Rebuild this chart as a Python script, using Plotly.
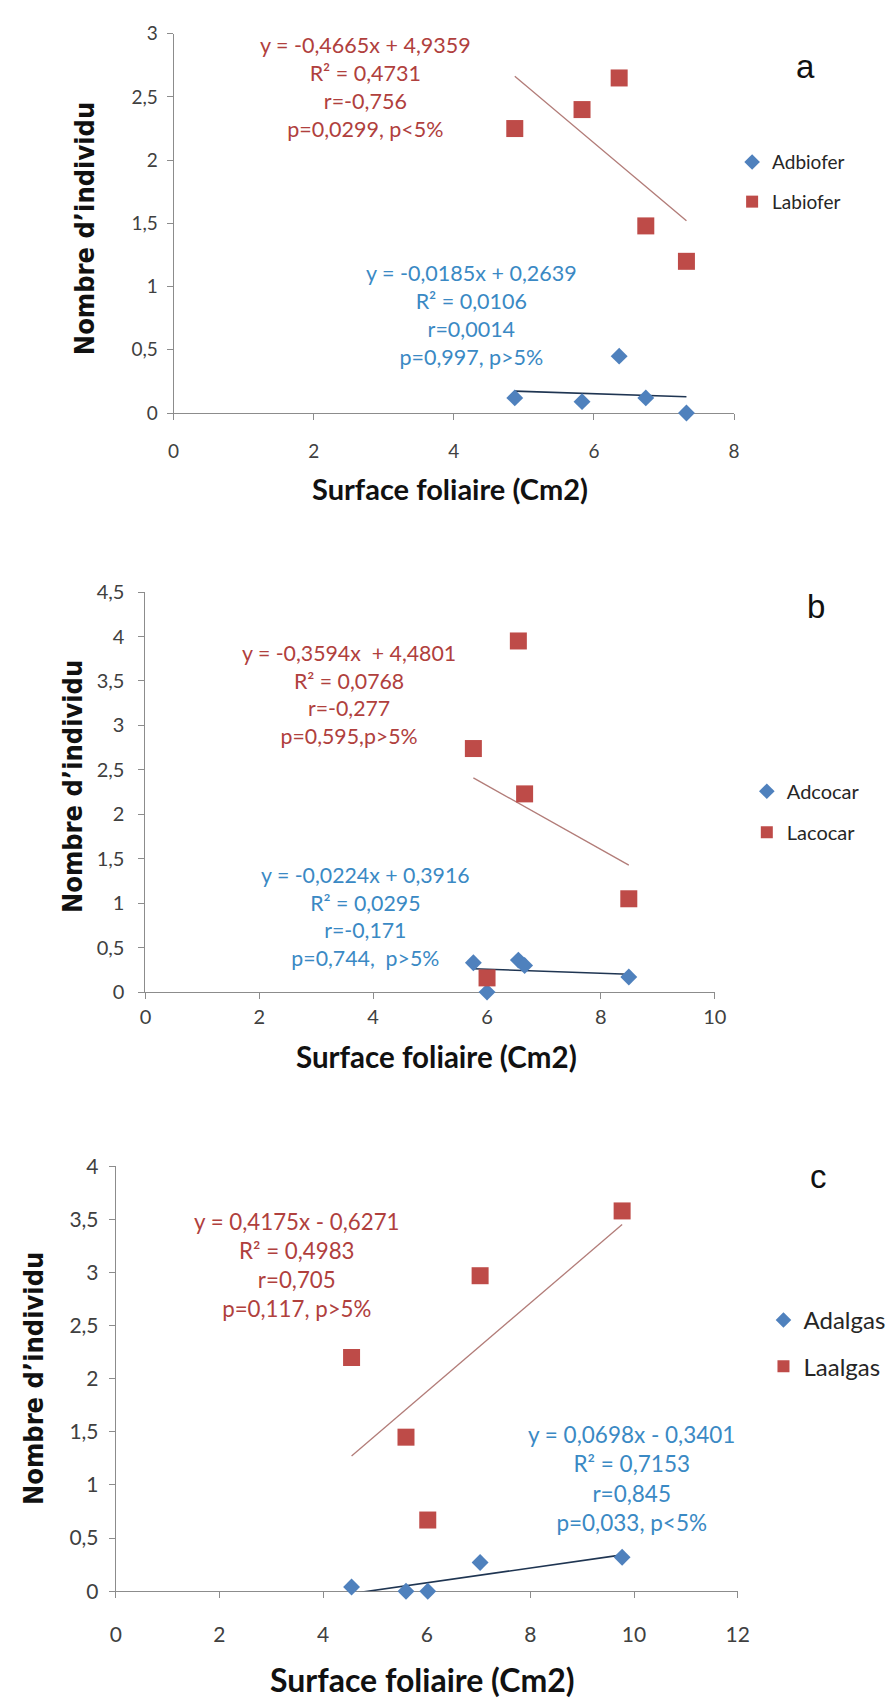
import plotly.graph_objects as go

W, H = 896, 1702

# ---- data -------------------------------------------------------------
# panel a : biofer
a_x = [4.87, 5.83, 6.36, 6.74, 7.32]
a_ad = [0.12, 0.09, 0.45, 0.12, 0.0]
a_la = [2.25, 2.40, 2.65, 1.48, 1.20]
a_fit_ad = [-0.0185, 0.2639]
a_fit_la = [-0.4665, 4.9359]
a_names = ["Adbiofer", "Labiofer"]
a_txt_la = ["y = -0,4665x + 4,9359", "R² = 0,4731", "r=-0,756", "p=0,0299, p&lt;5%"]
a_txt_ad = ["y = -0,0185x + 0,2639", "R² = 0,0106", "r=0,0014", "p=0,997, p&gt;5%"]

# panel b : cocar
b_x_ad = [5.76, 6.55, 6.66, 8.49, 6.00]
b_x_la = [5.76, 6.55, 6.66, 8.49, 6.00]
b_ad = [0.33, 0.36, 0.30, 0.17, 0.0]
b_la = [2.74, 3.95, 2.23, 1.05, 0.16]
b_fit_ad = [-0.0224, 0.3916]
b_fit_la = [-0.3594, 4.4801]
b_names = ["Adcocar", "Lacocar"]
b_txt_la = ["y = -0,3594x \u00a0+ 4,4801", "R² = 0,0768", "r=-0,277", "p=0,595,p&gt;5%"]
b_txt_ad = ["y = -0,0224x + 0,3916", "R² = 0,0295", "r=-0,171", "p=0,744, \u00a0p&gt;5%"]

# panel c : algas
c_x = [4.55, 5.60, 6.02, 7.03, 9.77]
c_ad = [0.04, 0.0, 0.0, 0.27, 0.32]
c_la = [2.20, 1.45, 0.67, 2.97, 3.58]
c_fit_ad = [0.0698, -0.3401]
c_fit_la = [0.4175, -0.6271]
c_names = ["Adalgas", "Laalgas"]
c_txt_la = ["y = 0,4175x - 0,6271", "R² = 0,4983", "r=0,705", "p=0,117, p&gt;5%"]
c_txt_ad = ["y = 0,0698x - 0,3401", "R² = 0,7153", "r=0,845", "p=0,033, p&lt;5%"]

x_title = "Surface foliaire (Cm2)"
y_title = "Nombre d’individu"

# ---- style ------------------------------------------------------------
BLUE = "#4F81BD"
RED = "#BE4B48"
BLUE_TXT = "#3A89C4"
RED_TXT = "#B0403D"
RED_TREND = "#B27C78"
BLUE_TREND = "#1F3552"
AXIS = "#8C8C8C"
TICK_TXT = "#404040"
SANS = "Lato, 'Open Sans', sans-serif"
BOLD_T = "'DejaVu Sans Condensed', 'DejaVu Sans', Verdana, sans-serif"


def px(x):
    return x / W


def py(y):
    return 1 - y / H


# pixel geometry of each panel
panels = [
    dict(x0=171, x1=743, yb=405, yt=20, xmax=8, ymax=3, fs=19,
         xstand=15, ystand=5, leg_font=19),
    dict(x0=142.3, x1=723.3, yb=992.7, yt=586.7, xmax=10, ymax=4.5, fs=20,
         xstand=1, ystand=10, leg_font=20),
    dict(x0=112, x1=746.7, yb=1600.7, yt=1169.5, xmax=12, ymax=4, fs=21,
         xstand=19, ystand=6, leg_font=24),
]

series = [
    (a_x, a_x, a_ad, a_la, a_fit_ad, a_fit_la, a_names),
    (b_x_ad, b_x_la, b_ad, b_la, b_fit_ad, b_fit_la, b_names),
    (c_x, c_x, c_ad, c_la, c_fit_ad, c_fit_la, c_names),
]

fig = go.Figure()

for i, (p, s) in enumerate(zip(panels, series), start=1):
    xs_ad, xs_la, ad, la, fit_ad, fit_la, names = s
    xa = "x" if i == 1 else f"x{i}"
    ya = "y" if i == 1 else f"y{i}"
    leg = "legend" if i == 1 else f"legend{i}"

    # trend lines from the stated equations, over the observed x span
    for xs, fit, col, w in ((xs_la, fit_la, RED_TREND, 1.3), (xs_ad, fit_ad, BLUE_TREND, 1.6)):
        lo, hi = min(xs), max(xs)
        fig.add_trace(go.Scatter(
            x=[lo, hi], y=[fit[0] * lo + fit[1], fit[0] * hi + fit[1]],
            mode="lines", line=dict(color=col, width=w),
            showlegend=False, hoverinfo="skip", xaxis=xa, yaxis=ya))

    fig.add_trace(go.Scatter(
        x=xs_ad, y=ad, mode="markers", name=names[0],
        marker=dict(symbol="diamond", size=13, color=BLUE, line=dict(width=0)),
        cliponaxis=False, xaxis=xa, yaxis=ya, legend=leg, legendgroup=f"{i}a"))
    fig.add_trace(go.Scatter(
        x=xs_la, y=la, mode="markers", name=names[1],
        marker=dict(symbol="square", size=17, color=RED, line=dict(width=0)),
        cliponaxis=False, xaxis=xa, yaxis=ya, legend=leg, legendgroup=f"{i}b"))

axis_common = dict(showgrid=False, zeroline=False, showline=True, linecolor=AXIS,
                   linewidth=1, ticks="outside", tickcolor=AXIS, ticklen=6,
                   tickwidth=1, layer="below traces")

layout = dict(
    width=W, height=H, autosize=False,
    margin=dict(l=0, r=0, t=0, b=0),
    paper_bgcolor="white", plot_bgcolor="white",
    separators=", ",
    showlegend=True,
)

for i, p in enumerate(panels, start=1):
    xk = "xaxis" if i == 1 else f"xaxis{i}"
    yk = "yaxis" if i == 1 else f"yaxis{i}"
    layout[xk] = dict(axis_common, domain=[px(p["x0"]), px(p["x1"])],
                      range=[0, p["xmax"]], dtick=2, tick0=0,
                      anchor="y" if i == 1 else f"y{i}",
                      ticklabelstandoff=p["xstand"],
                      tickfont=dict(family=SANS, size=p["fs"], color=TICK_TXT))
    layout[yk] = dict(axis_common, domain=[py(p["yb"]), py(p["yt"])],
                      range=[0, p["ymax"]], dtick=0.5, tick0=0,
                      anchor="x" if i == 1 else f"x{i}",
                      ticklabelstandoff=p["ystand"],
                      tickfont=dict(family=SANS, size=p["fs"], color=TICK_TXT))

# legends
leg_pos = [(741, 131), (756, 769), (773, 1303)]
for i, ((lx, ly), p) in enumerate(zip(leg_pos, panels), start=1):
    lk = "legend" if i == 1 else f"legend{i}"
    layout[lk] = dict(x=px(lx), y=py(ly), xanchor="left", yanchor="top",
                      xref="paper", yref="paper", bgcolor="rgba(0,0,0,0)",
                      font=dict(family=SANS, size=p["leg_font"], color="#262626"),
                      itemsizing="constant", tracegroupgap=12,
                      traceorder="grouped")

fig.update_layout(**layout)

# text blocks: equations, axis titles, panel letters
blocks = [
    (a_txt_la, 367, 74, RED_TXT, 21.5),
    (a_txt_ad, 475, 305, BLUE_TXT, 21.5),
    (b_txt_la, 350, 691, RED_TXT, 21.3),
    (b_txt_ad, 367, 916, BLUE_TXT, 21.3),
    (c_txt_la, 297, 1270, RED_TXT, 22.3),
    (c_txt_ad, 638, 1486, BLUE_TXT, 22.5),
]
for lines, cx, cy, col, fs in blocks:
    fig.add_annotation(text="<br>".join(lines), x=px(cx), y=py(cy),
                       xref="paper", yref="paper", showarrow=False,
                       xanchor="center", yanchor="middle", align="center",
                       font=dict(family=SANS, size=fs, color=col))

x_titles = [(453, 482, 29), (439, 1058, 29.5), (425, 1690, 32)]
for cx, cy, fs in x_titles:
    fig.add_annotation(text=f"<b>{x_title}</b>", x=px(cx), y=py(cy),
                       xref="paper", yref="paper", showarrow=False,
                       xanchor="center", yanchor="middle",
                       font=dict(family=SANS, size=fs, color="#111111"))

y_titles = [(80, 218), (68, 784), (28, 1385)]
for cx, cy in y_titles:
    fig.add_annotation(text=f"<b>{y_title}</b>", x=px(cx), y=py(cy),
                       xref="paper", yref="paper", showarrow=False,
                       xanchor="center", yanchor="middle", textangle=-90,
                       font=dict(family=BOLD_T, size=27, color="#111111"))

letters = [("a", 816, 53), ("b", 827, 601), ("c", 829, 1180)]
for t, cx, cy in letters:
    fig.add_annotation(text=t, x=px(cx), y=py(cy), xref="paper", yref="paper",
                       showarrow=False, xanchor="center", yanchor="middle",
                       font=dict(family="'Liberation Sans', Arial, sans-serif",
                                 size=33, color="#111111"))

fig.write_html("out.html")
